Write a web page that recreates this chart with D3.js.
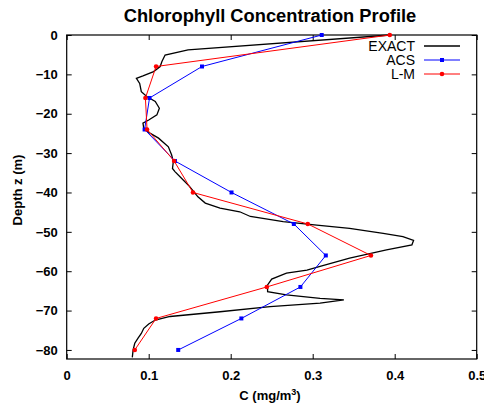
<!DOCTYPE html>
<html><head><meta charset="utf-8">
<script src="https://cdn.jsdelivr.net/npm/d3@7"></script>
<style>
html,body{margin:0;padding:0;background:#fff;}
svg{display:block;font-family:"Liberation Sans",Arial,Helvetica,sans-serif;}
</style></head>
<body>
<svg id="chart" width="484" height="409"></svg>
<script>
// ---- data ----
const sampleDepths = [0, -8, -16, -24, -32, -40, -48, -56, -64, -72, -80];
const acsValues = [0.311, 0.165, 0.101, 0.095, 0.132, 0.201, 0.277, 0.316, 0.285, 0.213, 0.136];
const lmValues  = [0.394, 0.109, 0.096, 0.098, 0.131, 0.154, 0.294, 0.371, 0.244, 0.109, 0.083];
const exactDepths = [0, -3.8, -5.1, -6.8, -8.0, -9.3, -10.4, -11.0, -12.3, -14.4, -15.7, -16.9, -18.6, -20.3, -21.6, -22.4, -23.7, -25.0, -26.2,
  -28.4, -30.5, -32.2, -33.9, -34.7, -36.4, -38.5, -41.1, -42.7, -44.0, -44.9, -46.1, -47.4, -48.3, -49.1, -50.4, -51.2, -52.2, -53.3,
  -54.6, -56.7, -58.8, -59.7, -60.5, -62.0, -63.5, -65.2, -66.0, -66.9, -67.3, -68.1, -69.0, -70.3, -71.5, -72.4, -73.4, -74.5, -75.8,
  -77.0, -78.3, -80.0, -81.9];
const exactValues = [0.395, 0.148, 0.120, 0.116, 0.114, 0.106, 0.093, 0.085, 0.089, 0.091, 0.098, 0.108, 0.113, 0.110, 0.100, 0.093, 0.094, 0.102, 0.112,
  0.124, 0.128, 0.130, 0.129, 0.132, 0.140, 0.150, 0.160, 0.169, 0.187, 0.211, 0.224, 0.264, 0.305, 0.345, 0.386, 0.410, 0.423, 0.421,
  0.390, 0.345, 0.309, 0.293, 0.268, 0.250, 0.245, 0.245, 0.268, 0.309, 0.338, 0.309, 0.248, 0.187, 0.126, 0.108, 0.100, 0.094, 0.091,
  0.087, 0.083, 0.081, 0.080];
const xTicks = [0, 0.1, 0.2, 0.3, 0.4, 0.5];
const yTicks = [0, -10, -20, -30, -40, -50, -60, -70, -80];
const seriesNames = ["EXACT", "ACS", "L-M"];
const seriesColors = ["#000000", "#0000ff", "#ff0000"];

// ---- layout ----
const svg = d3.select("#chart");
const L = 66.7, R = 476.7, T = 35, B = 359;
const x = d3.scaleLinear().domain([0, 0.5]).range([L, R]);
const y = d3.scaleLinear().domain([-82.3, 0]).range([B, T]);

// title
svg.append("text").attr("x", 270).attr("y", 22).attr("text-anchor", "middle")
  .attr("font-size", 18.3).attr("font-weight", "bold").text("Chlorophyll Concentration Profile");

// axes (inner ticks on all sides)
const tl = 5;
const fmtX = d => d === 0 ? "0" : d3.format(".1f")(d);
const ax = svg.append("g").attr("transform", `translate(0,${B})`)
  .call(d3.axisBottom(x).tickValues(xTicks).tickFormat(fmtX).tickSizeInner(-tl).tickSizeOuter(0).tickPadding(12));
const ay = svg.append("g").attr("transform", `translate(${L},0)`)
  .call(d3.axisLeft(y).tickValues(yTicks).tickFormat(d3.format("d")).tickSizeInner(-tl).tickSizeOuter(0).tickPadding(9));
const axT = svg.append("g").attr("transform", `translate(0,${T})`)
  .call(d3.axisTop(x).tickValues(xTicks).tickFormat("").tickSizeInner(-tl).tickSizeOuter(0));
const ayR = svg.append("g").attr("transform", `translate(${R},0)`)
  .call(d3.axisRight(y).tickValues(yTicks).tickFormat("").tickSizeInner(-tl).tickSizeOuter(0));
[ax, ay, axT, ayR].forEach(g => {
  g.select(".domain").remove();
  g.selectAll("line").attr("stroke", "#000").attr("stroke-width", 1);
  g.selectAll("text").attr("font-size", 13).attr("font-weight", "bold")
    .attr("font-family", "'Liberation Sans',Arial,sans-serif").attr("fill", "#000");
});
svg.append("rect").attr("x", L).attr("y", T).attr("width", R - L).attr("height", B - T)
  .attr("fill", "none").attr("stroke", "#000").attr("stroke-width", 1.2);

// axis labels
svg.append("text").attr("x", 270).attr("y", 400).attr("text-anchor", "middle")
  .attr("font-size", 13).attr("font-weight", "bold")
  .html('C (mg/m<tspan dy="-5" font-size="9">3</tspan><tspan dy="5">)</tspan>');
svg.append("text").attr("transform", "translate(22,190) rotate(-90)").attr("text-anchor", "middle")
  .attr("font-size", 13).attr("font-weight", "bold").text("Depth z (m)");

// lines
const line = d3.line().x(d => x(d[0])).y(d => y(d[1]));
const plot = svg.append("g");
plot.append("path").datum(exactValues.map((v, i) => [v, exactDepths[i]]))
  .attr("d", line).attr("fill", "none").attr("stroke", seriesColors[0]).attr("stroke-width", 1.3);
const acsData = acsValues.map((v, i) => [v, sampleDepths[i]]);
const lmData = lmValues.map((v, i) => [v, sampleDepths[i]]);
plot.append("path").datum(acsData).attr("d", line).attr("fill", "none").attr("stroke", seriesColors[1]).attr("stroke-width", 1);
plot.selectAll(".acs").data(acsData).enter().append("rect")
  .attr("x", d => x(d[0]) - 2).attr("y", d => y(d[1]) - 2).attr("width", 4).attr("height", 4).attr("fill", seriesColors[1]);
plot.append("path").datum(lmData).attr("d", line).attr("fill", "none").attr("stroke", seriesColors[2]).attr("stroke-width", 1);
plot.selectAll(".lm").data(lmData).enter().append("circle")
  .attr("cx", d => x(d[0])).attr("cy", d => y(d[1])).attr("r", 2.3).attr("fill", seriesColors[2]);

// legend
const lg = svg.append("g");
seriesNames.forEach((name, i) => {
  const yy = 46 + i * 14;
  lg.append("text").attr("x", 415).attr("y", yy + 5).attr("text-anchor", "end")
    .attr("font-size", 14).text(name);
  lg.append("line").attr("x1", 424).attr("x2", 460).attr("y1", yy).attr("y2", yy)
    .attr("stroke", seriesColors[i]).attr("stroke-width", i === 0 ? 1.3 : 1);
  if (i === 1) lg.append("rect").attr("x", 440).attr("y", yy - 2).attr("width", 4).attr("height", 4).attr("fill", seriesColors[1]);
  if (i === 2) lg.append("circle").attr("cx", 442).attr("cy", yy).attr("r", 2.3).attr("fill", seriesColors[2]);
});
</script>
</body></html>
